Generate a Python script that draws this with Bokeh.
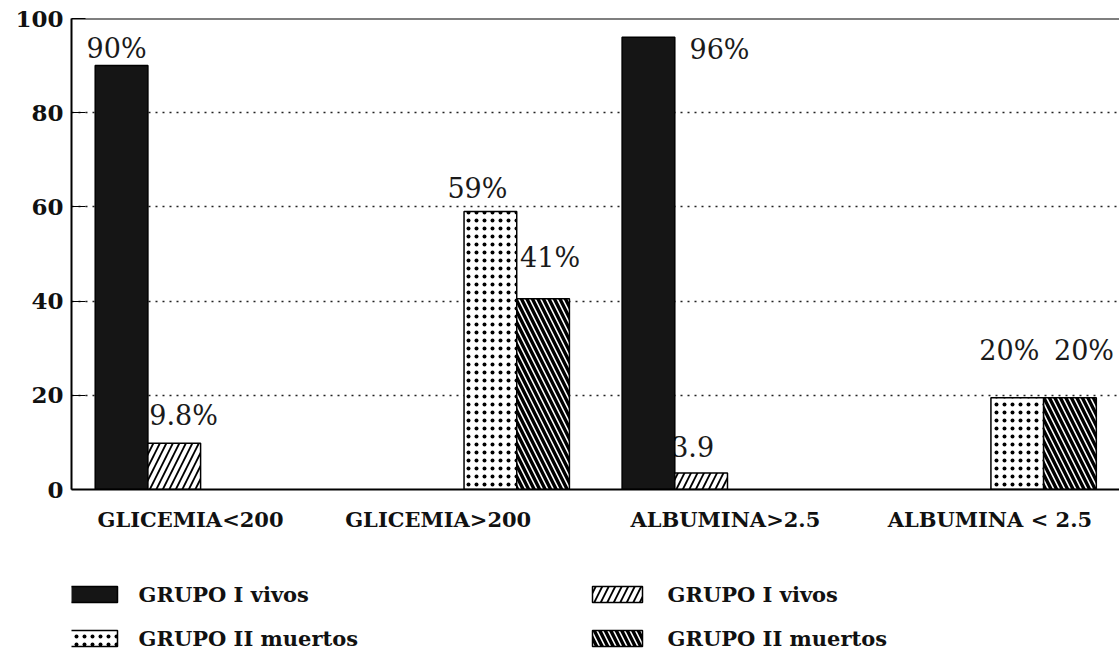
from bokeh.plotting import figure
from bokeh.layouts import column
from bokeh.models import Range1d, FixedTicker, ColumnDataSource, Span
from bokeh.embed import file_html
from bokeh.resources import INLINE
from bokeh.core.properties import value

# ---------------- data ----------------
categories = ["GLICEMIA<200", "GLICEMIA>200", "ALBUMINA>2.5", "ALBUMINA < 2.5"]
legend_names = ["GRUPO I vivos", "GRUPO I vivos", "GRUPO II muertos", "GRUPO II muertos"]

grupo1_vivos_solid = [90, 0, 96, 0]
grupo1_vivos_hatch = [9.8, 0, 3.5, 0]
grupo2_muertos_dots = [0, 59, 0, 19.5]
grupo2_muertos_hatch = [0, 40.5, 0, 19.5]

grupo1_vivos_solid_lbl = ["90%", "", "96%", ""]
grupo1_vivos_hatch_lbl = ["9.8%", "", "3.9", ""]
grupo2_muertos_dots_lbl = ["", "59%", "", "20%"]
grupo2_muertos_hatch_lbl = ["", "41%", "", "20%"]

y_ticks = [0, 20, 40, 60, 80, 100]
grid_ticks = [20, 40, 60, 80]

# ---------------- layout / style ----------------
series_values = [grupo1_vivos_solid, grupo1_vivos_hatch, grupo2_muertos_dots, grupo2_muertos_hatch]
series_labels = [grupo1_vivos_solid_lbl, grupo1_vivos_hatch_lbl, grupo2_muertos_dots_lbl, grupo2_muertos_hatch_lbl]
styles = [
    dict(fill_color="#151515", hatch_pattern=None, hatch_scale=8, hatch_weight=1),
    dict(fill_color="white", hatch_pattern="/", hatch_scale=13, hatch_weight=1.8),
    dict(fill_color="white", hatch_pattern=".", hatch_scale=8, hatch_weight=0.5),
    dict(fill_color="white", hatch_pattern="\\", hatch_scale=11, hatch_weight=3.4),
]
# label placement (x offset in px, y offset in data units) per series / category
label_dx = [[-35, 0, 41, 0], [-25, 0, -30, 0], [0, -43, 0, -38], [0, -23, 0, -16]]
label_dy = [[3.6, 0, -2.6, 0], [5.9, 0, 5.6, 0], [0, 4.9, 0, 10], [0, 8.8, 0, 10]]
tick_shift = [-0.19, -0.49, -0.04, -0.02]

GROUP = 5  # 4 bars + 1 gap per category

def hatch_kw(st):
    kw = dict(fill_color=st["fill_color"], line_color="black", line_width=1.5)
    if st["hatch_pattern"]:
        kw.update(hatch_pattern=st["hatch_pattern"], hatch_color="black",
                  hatch_scale=st["hatch_scale"], hatch_weight=st["hatch_weight"])
    return kw

p = figure(width=1119, height=560, x_range=Range1d(0.05, 19.94), y_range=Range1d(0, 100),
           output_backend="svg", toolbar_location=None,
           min_border_left=71, min_border_right=0, min_border_top=18, min_border_bottom=71)
p.background_fill_color = "white"
p.border_fill_color = "white"
p.outline_line_color = None

# labels first so the bars cover them where they overlap
for s, (vals, labs) in enumerate(zip(series_values, series_labels)):
    xs, ys, ts, dxs = [], [], [], []
    for i, (v, t) in enumerate(zip(vals, labs)):
        if t:
            xs.append(GROUP * i + s + 1)
            ys.append(v + label_dy[s][i])
            ts.append(t)
            dxs.append(label_dx[s][i])
    src = ColumnDataSource(dict(x=xs, y=ys, text=ts, dx=dxs))
    p.text(x="x", y="y", text="text", x_offset="dx", source=src,
           text_font=value("DejaVu Serif"), text_font_size=value("27px"),
           text_color="#1a1a1a", text_align="left", text_baseline="alphabetic")

for s, vals in enumerate(series_values):
    xs, tops = [], []
    for i, v in enumerate(vals):
        if v > 0:
            xs.append(GROUP * i + s + 1)
            tops.append(v)
    src = ColumnDataSource(dict(x=xs, top=tops))
    p.vbar(x="x", top="top", bottom=0, width=1.0, source=src, **hatch_kw(styles[s]))

# top frame line
p.add_layout(Span(location=100, dimension="width", line_color="black", line_width=2))

# axes
p.yaxis.ticker = FixedTicker(ticks=y_ticks)
p.yaxis.axis_line_width = 2
p.yaxis.axis_line_color = "black"
p.yaxis.major_tick_in = 14
p.yaxis.major_tick_out = 0
p.yaxis.minor_tick_line_color = None
p.yaxis.major_label_standoff = 8
p.yaxis.major_label_text_font = "DejaVu Serif"
p.yaxis.major_label_text_font_style = "bold"
p.yaxis.major_label_text_font_size = "23px"
p.yaxis.major_label_text_color = "#111111"

xt = [GROUP * i + 2.5 + tick_shift[i] for i in range(len(categories))]
p.xaxis.ticker = FixedTicker(ticks=xt)
p.xaxis.major_label_overrides = {t: c for t, c in zip(xt, categories)}
p.xaxis.axis_line_width = 2
p.xaxis.axis_line_color = "black"
p.xaxis.major_tick_in = 0
p.xaxis.major_tick_out = 0
p.xaxis.minor_tick_line_color = None
p.xaxis.major_label_standoff = 17
p.xaxis.major_label_text_font = "DejaVu Serif"
p.xaxis.major_label_text_font_style = "bold"
p.xaxis.major_label_text_font_size = "21px"
p.xaxis.major_label_text_color = "#111111"

# grid
p.xgrid.grid_line_color = None
p.ygrid.ticker = FixedTicker(ticks=grid_ticks)
p.ygrid.grid_line_color = "#222222"
p.ygrid.grid_line_width = 1.5
p.ygrid.grid_line_dash = "2 5"

# ---------------- legend (separate strip below; frame is aligned with the chart frame) ----------------
LH = 100
lg = figure(width=1119, height=LH, x_range=Range1d(71, 1119), y_range=Range1d(LH, 0),
            output_backend="svg", toolbar_location=None,
            min_border_left=71, min_border_right=0, min_border_top=0, min_border_bottom=0,
            x_axis_type=None, y_axis_type=None)
lg.outline_line_color = None
lg.xgrid.visible = False
lg.ygrid.visible = False
lg.background_fill_color = "white"
lg.border_fill_color = "white"

box_cx = [92, 617]      # column box centres (page px)
text_x = [138, 667]     # column text starts (page px)
row_y = [34, 78]        # row centres within strip
order = [(0, 0, 0), (1, 1, 0), (2, 0, 1), (3, 1, 1)]  # (series, column, row)
for s, c, r in order:
    lg.rect(x=[box_cx[c]], y=[row_y[r]], width=50, height=16, **hatch_kw(styles[s]))
    lg.text(x=[text_x[c]], y=[row_y[r]], text=[legend_names[s]],
            text_font=value("DejaVu Serif"), text_font_style="bold",
            text_font_size=value("21px"), text_color="#111111",
            text_align="left", text_baseline="middle")

layout = column(p, lg, spacing=0)
open("out.html", "w").write(file_html(layout, INLINE))
